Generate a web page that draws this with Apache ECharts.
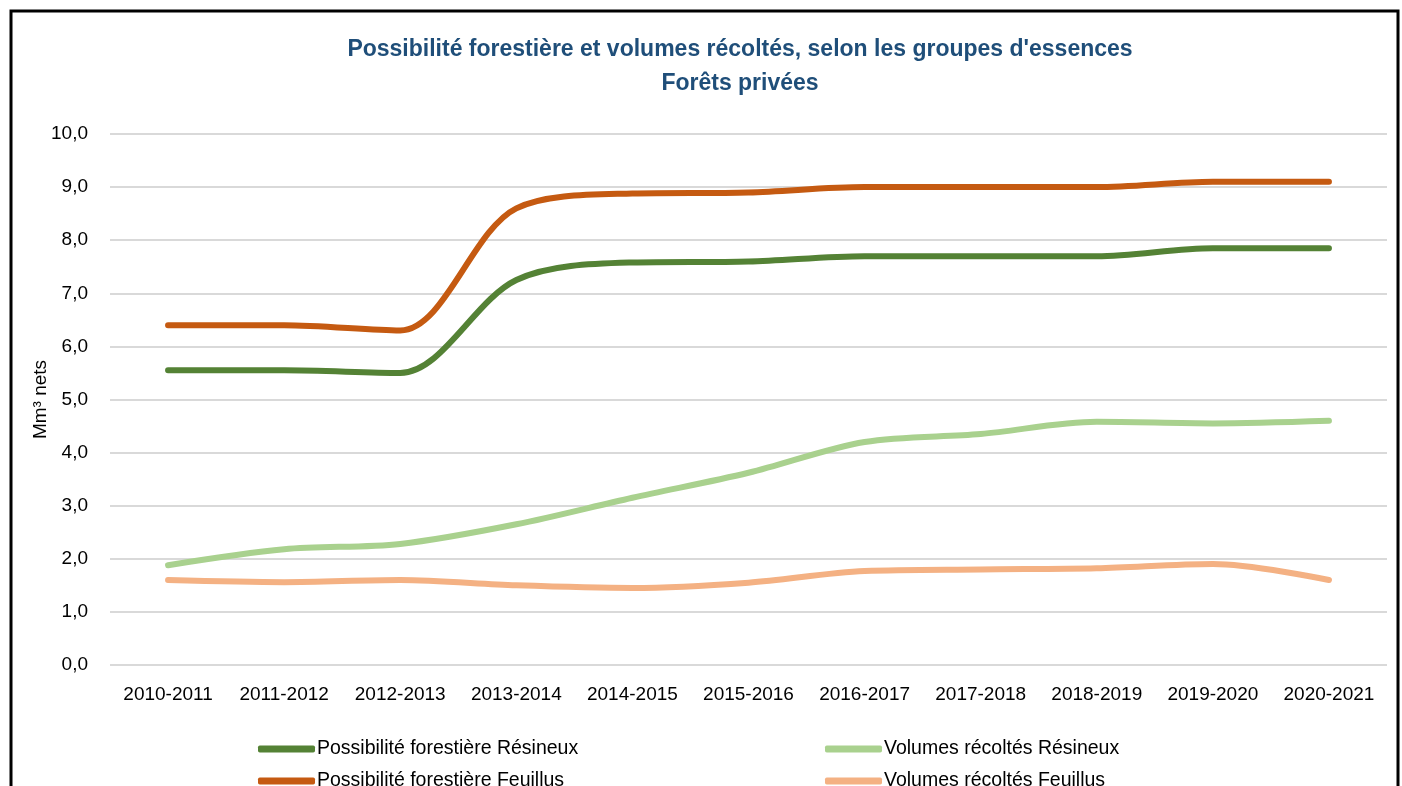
<!DOCTYPE html>
<html><head><meta charset="utf-8">
<script src="https://cdn.jsdelivr.net/npm/echarts@6/dist/echarts.min.js"></script>
<style>html,body{margin:0;padding:0;background:#fff}#c{width:1402px;height:786px}</style>
</head><body><div id="c"></div>
<script>
const categories = ['2010-2011','2011-2012','2012-2013','2013-2014','2014-2015','2015-2016','2016-2017','2017-2018','2018-2019','2019-2020','2020-2021'];
const possResineux = [5.55,5.55,5.5,7.25,7.58,7.6,7.7,7.7,7.7,7.85,7.85];
const possFeuillus = [6.4,6.4,6.3,8.6,8.88,8.9,9.0,9.0,9.0,9.1,9.1];
const volResineux = [1.88,2.18,2.28,2.65,3.15,3.62,4.2,4.35,4.58,4.55,4.6];
const volFeuillus = [1.6,1.56,1.6,1.5,1.45,1.55,1.77,1.8,1.82,1.9,1.6];
const names = ['Possibilité forestière Résineux','Possibilité forestière Feuillus','Volumes récoltés Résineux','Volumes récoltés Feuillus'];
const colors = ['#548235','#C55A11','#A9D18E','#F4B183'];
const FONT = "'Liberation Sans',Arial,sans-serif";

const chart = echarts.init(document.getElementById('c'), null, {renderer:'canvas'});
function mk(name, data, color){
  return {name, type:'line', data, smooth:0.32, symbol:'none',
    lineStyle:{width:6,color,cap:'round',join:'round'}, itemStyle:{color}};
}
function lg(name, left, top){
  return {data:[name], left, top, itemWidth:57, itemHeight:7, icon:'roundRect',
    textStyle:{fontFamily:FONT, fontSize:19.5, color:'#000', padding:[0,0,0,-3]}};
}
chart.setOption({
  animation:false,
  textStyle:{fontFamily:FONT},
  title:{
    text:'Possibilité forestière et volumes récoltés, selon les groupes d\'essences\nForêts privées',
    left:735, top:28, textAlign:'center',
    textStyle:{fontFamily:FONT, fontWeight:'bold', fontSize:23, color:'#1F4E79', lineHeight:34}
  },
  graphic:[{type:'rect', shape:{x:11,y:11,width:1387,height:800}, style:{fill:'none',stroke:'#000',lineWidth:3}, silent:true, z:100}],
  grid:{left:110, right:15, top:134, bottom:121, containLabel:false},
  legend:[lg(names[0],253,734), lg(names[1],253,766), lg(names[2],820,734), lg(names[3],820,766)],
  xAxis:{type:'category', data:categories, boundaryGap:true,
    axisLine:{show:false}, axisTick:{show:false},
    axisLabel:{fontFamily:FONT, fontSize:19, color:'#000', margin:20, interval:0}},
  yAxis:{type:'value', min:0, max:10, interval:1,
    name:'Mm³ nets', nameLocation:'middle', nameGap:60, nameRotate:90, nameMoveOverlap:false,
    nameTextStyle:{fontFamily:FONT, fontSize:19, color:'#000'},
    axisLine:{show:false}, axisTick:{show:false},
    axisLabel:{fontFamily:FONT, fontSize:19, color:'#000', margin:22, formatter:v=>v.toFixed(1).replace('.',',')},
    splitLine:{lineStyle:{color:'#D9D9D9', width:2}}},
  series:[mk(names[0],possResineux,colors[0]), mk(names[1],possFeuillus,colors[1]), mk(names[2],volResineux,colors[2]), mk(names[3],volFeuillus,colors[3])]
});
</script></body></html>
